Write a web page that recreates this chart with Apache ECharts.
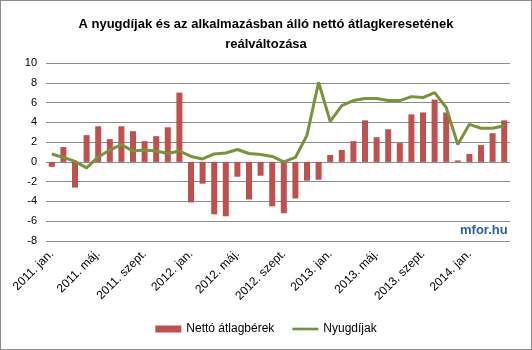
<!DOCTYPE html>
<html>
<head>
<meta charset="utf-8">
<script src="https://cdn.jsdelivr.net/npm/echarts@6/dist/echarts.min.js"></script>
<style>
  html, body { margin: 0; padding: 0; background: #fff; }
  #chart { width: 532px; height: 350px; box-sizing: border-box; border: 1px solid #8c8c8c; }
</style>
</head>
<body>
<div id="chart"></div>
<script>
// Monthly categories, 2011 Jan – 2014 Apr
const years = [2011, 2012, 2013, 2014];
const monthNames = ['jan.', 'febr.', 'márc.', 'ápr.', 'máj.', 'jún.', 'júl.', 'aug.', 'szept.', 'okt.', 'nov.', 'dec.'];
const categories = [];
years.forEach(y => monthNames.forEach((m, i) => {
  if (y < 2014 || i < 4) categories.push(y + '. ' + m);
}));

// Real change of net average wages (%)
const wages = [
  -0.5, 1.5, -2.6, 2.7, 3.6, 2.3, 3.6, 3.1, 2.1, 2.6, 3.5, 7.0,
  -4.1, -2.2, -5.3, -5.5, -1.5, -3.8, -1.4, -4.5, -5.2, -3.7, -1.9, -1.8,
  0.7, 1.2, 2.1, 4.2, 2.5, 3.3, 1.9, 4.8, 5.0, 6.3, 5.0, 0.15,
  0.8, 1.7, 2.9, 4.2
];

// Real change of pensions (%)
const pensions = [
  0.8, 0.45, 0.05, -0.6, 0.5, 1.2, 1.75, 1.1, 1.2, 1.1, 0.85, 1.1,
  0.55, 0.3, 0.8, 0.9, 1.25, 0.85, 0.75, 0.55, 0.0, 0.45, 2.7, 8.05,
  4.1, 5.7, 6.2, 6.4, 6.4, 6.2, 6.2, 6.6, 6.5, 7.0, 5.5, 1.75,
  3.8, 3.4, 3.4, 3.65
];

const chart = echarts.init(document.getElementById('chart'));
chart.setOption({
  animation: false,
  textStyle: { fontFamily: 'Liberation Sans, Arial, sans-serif' },
  title: {
    text: 'A nyugdíjak és az alkalmazásban álló nettó átlagkeresetének\nreálváltozása',
    left: 'center',
    top: 8,
    textStyle: { fontSize: 13, fontWeight: 'bold', color: '#000', lineHeight: 20 }
  },
  graphic: [{
    type: 'text',
    left: 459,
    top: 223,
    style: { text: 'mfor.hu', font: 'bold 13px Liberation Sans, Arial, sans-serif', fill: '#2f5f9e' }
  }],
  legend: {
    bottom: 9,
    left: 'center',
    itemWidth: 26,
    itemHeight: 7,
    itemGap: 18,
    textStyle: { fontSize: 12, color: '#000' },
    data: [
      { name: 'Nettó átlagbérek', icon: 'rect' },
      // thin bar centred in a 26×7 box
      { name: 'Nyugdíjak', icon: 'path://M0,0M26,7M0,2.2H26V4.8H0Z' }
    ]
  },
  grid: { left: 45, right: 21, top: 62, bottom: 108, containLabel: false },
  xAxis: {
    type: 'category',
    data: categories,
    axisLine: { show: false },
    axisTick: { show: false },
    axisLabel: {
      interval: 3,
      rotate: 45,
      fontSize: 12,
      color: '#000',
      margin: 11
    }
  },
  yAxis: {
    type: 'value',
    min: -8,
    max: 10,
    interval: 2,
    axisLine: { show: false },
    axisTick: { show: false },
    axisLabel: { fontSize: 11, color: '#000', margin: 9 },
    splitLine: { lineStyle: { color: '#8c8c8c', width: 1 } }
  },
  series: [
    {
      name: 'Nettó átlagbérek',
      type: 'bar',
      data: wages,
      barWidth: 6,
      itemStyle: { color: '#c0504d' }
    },
    {
      name: 'Nyugdíjak',
      type: 'line',
      data: pensions,
      symbol: 'none',
      lineStyle: { color: '#77933c', width: 3 },
      itemStyle: { color: '#77933c' }
    }
  ]
});
</script>
</body>
</html>
